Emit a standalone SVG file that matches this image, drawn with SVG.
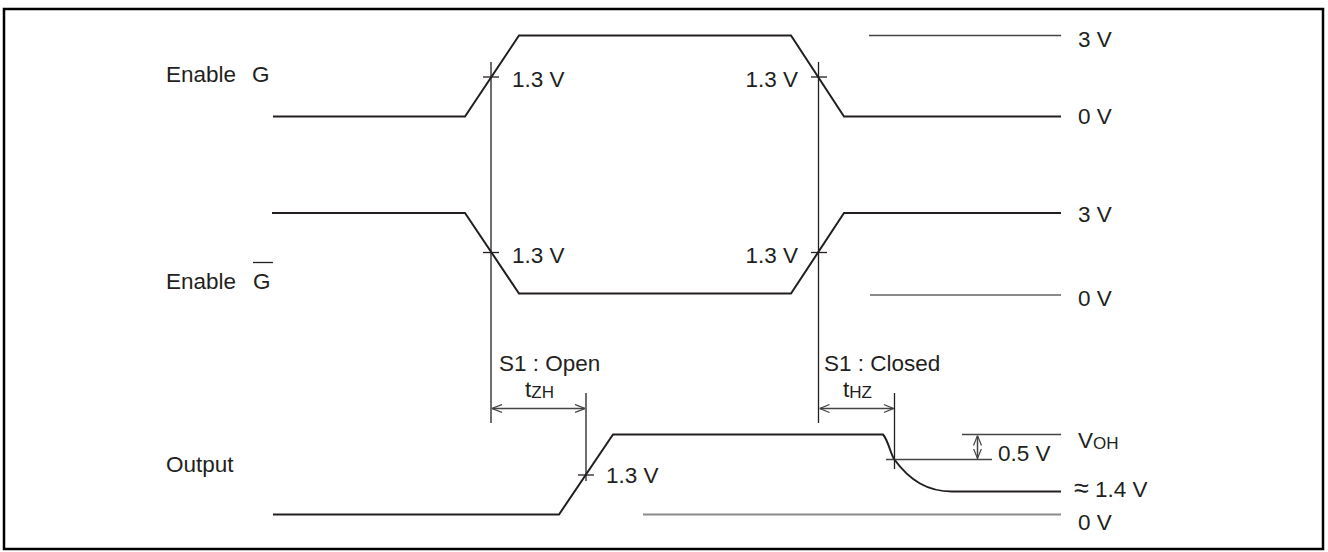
<svg xmlns="http://www.w3.org/2000/svg" width="1328" height="552" viewBox="0 0 1328 552">
<defs>
<style>
.w{fill:none;stroke:#231f20;stroke-width:2;stroke-linejoin:miter}
.t{fill:none;stroke:#231f20;stroke-width:1.3}
.g{fill:none;stroke:#8a8a8a;stroke-width:2}
.r{fill:none;stroke:#444;stroke-width:1.5}
text{font-family:"Liberation Sans",Arial,sans-serif;font-size:22.5px;fill:#231f20}
.s{font-size:17px}
.a{font-size:27px}
</style>
<marker id="ah" viewBox="0 0 10 10" refX="10" refY="5" markerWidth="10" markerHeight="10" markerUnits="userSpaceOnUse" orient="auto-start-reverse">
<path d="M0,1 L10,5 L0,9" fill="none" stroke="#444" stroke-width="1.2"/>
</marker>
</defs>
<rect x="4" y="9" width="1319" height="540" fill="#fff" stroke="#000" stroke-width="2.5"/>

<g id="enableG">
<text x="166" y="82">Enable</text>
<text x="252" y="82">G</text>
<polyline class="w" points="273,116.5 465,116.5 519,35.5 791,35.5 844,116.5 1061,116.5"/>
<line class="r" x1="869" y1="35.5" x2="1061" y2="35.5"/>
<text x="1078" y="47">3 V</text>
<text x="1078" y="124">0 V</text>
<line class="t" x1="483" y1="77" x2="499" y2="77"/>
<text x="512" y="87">1.3 V</text>
<line class="t" x1="811" y1="77" x2="827" y2="77"/>
<text x="798" y="87" text-anchor="end">1.3 V</text>
</g>

<g id="enableGbar">
<text x="166" y="289">Enable</text>
<text x="253" y="289">G</text>
<line class="t" x1="253" y1="262.5" x2="273" y2="262.5"/>
<polyline class="w" points="272,213 465,213 519,293.5 791,293.5 844,213 1061,213"/>
<line class="g" x1="870" y1="295" x2="1061" y2="295"/>
<text x="1078" y="222">3 V</text>
<text x="1078" y="306">0 V</text>
<line class="t" x1="483" y1="252.5" x2="499" y2="252.5"/>
<text x="512" y="263">1.3 V</text>
<line class="t" x1="811" y1="252.5" x2="827" y2="252.5"/>
<text x="798" y="263" text-anchor="end">1.3 V</text>
</g>

<g id="output">
<text x="166" y="472">Output</text>
<path class="w" d="M273,514.5 L559,514.5 L613,434.5 L883,434.5 C888,440 890,452 894,459 C910,481 928,491.5 952,491.5 L1061,491.5"/>
<line class="g" x1="643" y1="514.5" x2="1061" y2="514.5"/>
<line class="t" x1="578" y1="475" x2="594" y2="475"/>
<text x="606" y="483">1.3 V</text>
<line class="r" x1="962" y1="434.5" x2="1061" y2="434.5"/>
<line class="r" x1="886" y1="459.5" x2="992" y2="459.5"/>
<line class="r" x1="977.5" y1="435.5" x2="977.5" y2="458.5" marker-start="url(#ah)" marker-end="url(#ah)"/>
<text x="998" y="461">0.5 V</text>
<text x="1078" y="448">V<tspan class="s" dy="1">OH</tspan></text>
<text x="1074" y="497"><tspan class="a">≈</tspan> 1.4 V</text>
<text x="1078" y="530">0 V</text>
</g>

<g id="connectors">
<line class="t" x1="491" y1="62" x2="491" y2="423"/>
<line class="t" x1="818.5" y1="62" x2="818.5" y2="423"/>
<line class="t" x1="586" y1="393" x2="586" y2="481"/>
<line class="t" x1="894.5" y1="393" x2="894.5" y2="469"/>
<line class="r" x1="492" y1="408.5" x2="585" y2="408.5" marker-start="url(#ah)" marker-end="url(#ah)"/>
<line class="r" x1="819.5" y1="408.5" x2="893.5" y2="408.5" marker-start="url(#ah)" marker-end="url(#ah)"/>
<text x="499" y="371">S1 : Open</text>
<text x="525" y="397">t<tspan class="s" dy="1">ZH</tspan></text>
<text x="824" y="371">S1 : Closed</text>
<text x="843" y="397">t<tspan class="s" dy="1">HZ</tspan></text>
</g>
</svg>
